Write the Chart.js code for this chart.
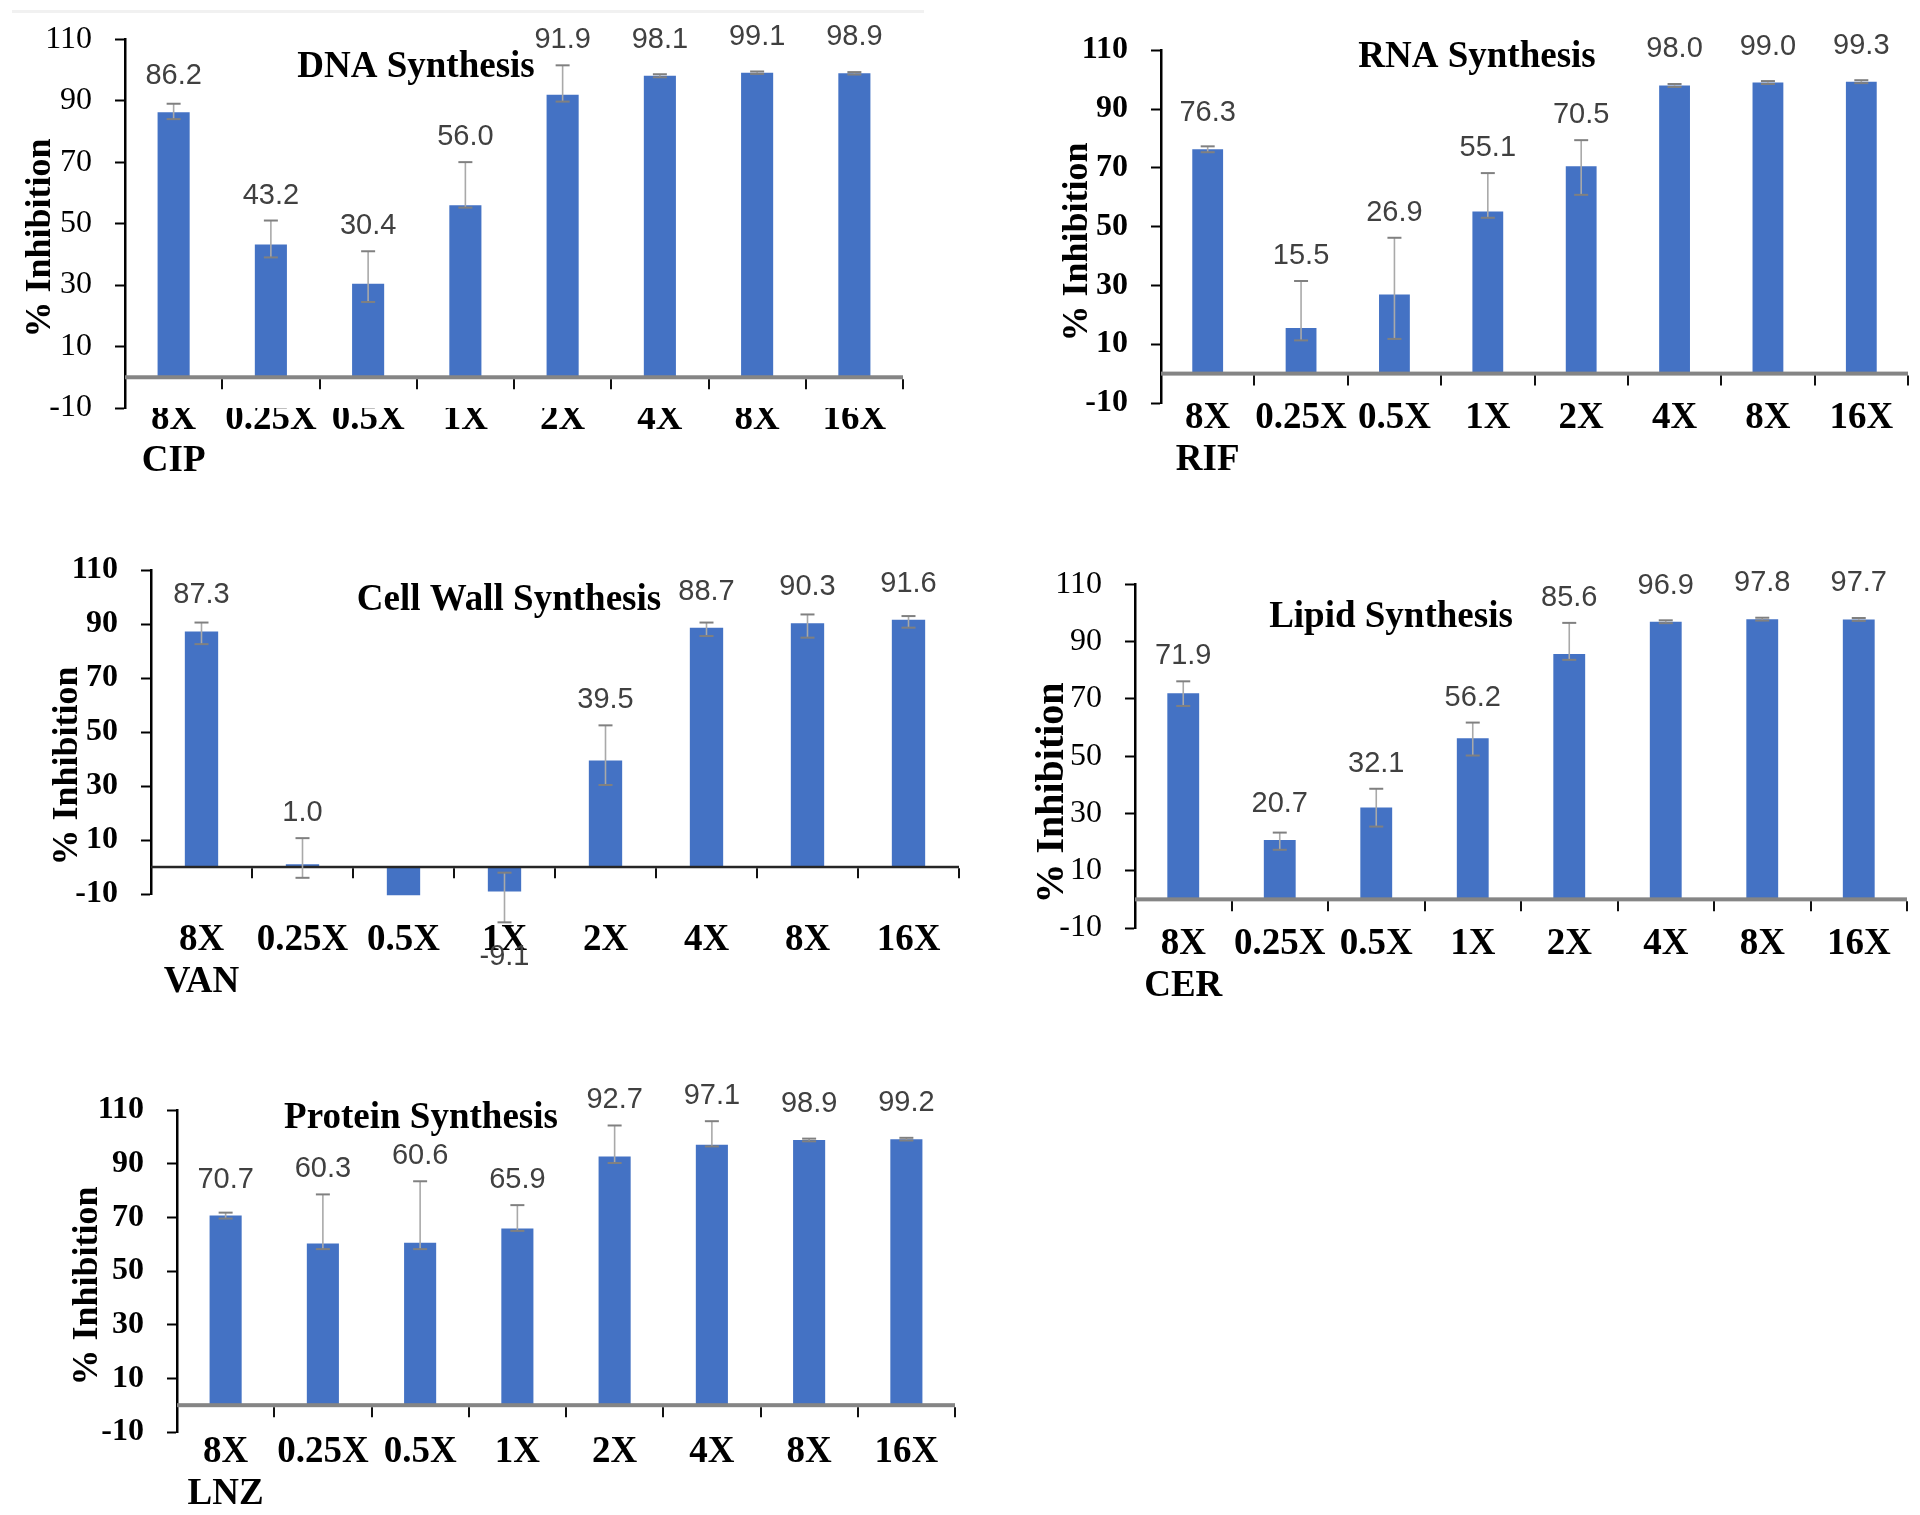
<!DOCTYPE html>
<html>
<head>
<meta charset="utf-8">
<script src="https://cdn.jsdelivr.net/npm/chart.js@4.4.0/dist/chart.umd.min.js"></script>
<style>
  html, body { margin: 0; padding: 0; background: #fff; }
  #page { position: relative; width: 1920px; height: 1515px; overflow: hidden; background: #fff; }
  #page canvas { position: absolute; }
  .edge { position: absolute; left: 12px; top: 10px; width: 912px; height: 3px; background: #f1f1f1; }
</style>
</head>
<body>
<div id="page"><div class="edge"></div></div>
<script>
// concentrations (multiples of MIC), shared by all panels
const doses = ["8X", "0.25X", "0.5X", "1X", "2X", "4X", "8X", "16X"];
const yTicks = { min: -10, max: 110, step: 20 };

// DNA synthesis - CIP
const dnaValues = [86.2, 43.2, 30.4, 56.0, 91.9, 98.1, 99.1, 98.9];
const dnaErrHigh = [89, 51, 41, 70, 101.5, 98.6, 99.5, 99.3];
const dnaErrLow = [84, 39, 24.5, 55.2, 89.7, 97.6, 98.7, 98.5];

// RNA synthesis - RIF
const rnaValues = [76.3, 15.5, 26.9, 55.1, 70.5, 98.0, 99.0, 99.3];
const rnaErrHigh = [77.3, 31.5, 46.2, 68.2, 79.4, 98.5, 99.5, 99.8];
const rnaErrLow = [75.3, 11.3, 11.8, 53, 60.8, 97.5, 98.5, 98.8];

// Cell wall synthesis - VAN (0.5X label not shown in the figure)
const cellValues = [87.3, 1.0, -10.5, -9.1, 39.5, 88.7, 90.3, 91.6];
const cellErrHigh = [90.6, 10.7, null, -2.1, 52.5, 90.6, 93.6, 93];
const cellErrLow = [82.6, -4, null, -20.5, 30.4, 85.6, 85, 88.7];
const cellHidden = [2];

// Lipid synthesis - CER
const lipidValues = [71.9, 20.7, 32.1, 56.2, 85.6, 96.9, 97.8, 97.7];
const lipidErrHigh = [76.1, 23.3, 38.6, 61.7, 96.5, 97.4, 98.3, 98.2];
const lipidErrLow = [67.5, 17.3, 25.4, 50.2, 83.6, 96.4, 97.3, 97.2];

// Protein synthesis - LNZ
const protValues = [70.7, 60.3, 60.6, 65.9, 92.7, 97.1, 98.9, 99.2];
const protErrHigh = [71.8, 78.6, 83.5, 74.6, 104.3, 105.9, 99.4, 99.7];
const protErrLow = [69.6, 58.2, 58.2, 65, 90.3, 96.5, 98.4, 98.7];

const SERIF = '"Liberation Serif", "Times New Roman", serif';

// zero axis, error bars, value labels, panel title and y title
const annot = {
  id: 'annot',
  afterDatasetsDraw(chart, args, o) {
    const { ctx, chartArea: a, scales: { x, y } } = chart;
    const vals = chart.data.datasets[0].data;
    const step = x.getPixelForValue(1) - x.getPixelForValue(0);
    const y0 = y.getPixelForValue(0);
    ctx.save();

    ctx.fillStyle = o.zeroColor;
    ctx.fillRect(a.left, y0 - o.zeroWidth / 2, a.right - a.left, o.zeroWidth);
    ctx.strokeStyle = '#111';
    ctx.lineWidth = 2;
    for (let i = 0; i < vals.length; i++) {
      const px = Math.round(x.getPixelForValue(i) + step / 2);
      ctx.beginPath();
      ctx.moveTo(px, y0 + o.zeroWidth / 2);
      ctx.lineTo(px, y0 + o.zeroWidth / 2 + 10);
      ctx.stroke();
    }

    vals.forEach((v, i) => {
      const px = x.getPixelForValue(i);
      const hi = o.hi[i], lo = o.lo[i];
      if (hi != null && lo != null) {
        const yh = y.getPixelForValue(hi), yl = y.getPixelForValue(lo);
        ctx.strokeStyle = '#a9a9a9';
        ctx.lineWidth = 1.6;
        ctx.beginPath(); ctx.moveTo(px, yh); ctx.lineTo(px, yl); ctx.stroke();
        ctx.strokeStyle = '#808080';
        ctx.lineWidth = 2;
        [yh, yl].forEach(yy => {
          ctx.beginPath(); ctx.moveTo(px - 7, yy); ctx.lineTo(px + 7, yy); ctx.stroke();
        });
      }
      if (o.hidden.includes(i)) return;
      ctx.font = '29px "Liberation Sans", Arial, sans-serif';
      ctx.fillStyle = '#404040';
      ctx.textAlign = 'center';
      ctx.textBaseline = 'middle';
      let ly;
      if (v >= 0) {
        const top = Math.max(v, hi == null ? v : hi);
        ly = Math.min(y.getPixelForValue(top) - 25, y.getPixelForValue(v) - 36);
      } else {
        const bot = Math.min(v, lo == null ? v : lo);
        ly = y.getPixelForValue(bot) + 35;
      }
      ctx.fillText(v.toFixed(1), px, ly);
    });

    ctx.fillStyle = '#000';
    ctx.textAlign = 'center';
    ctx.textBaseline = 'middle';
    ctx.font = 'bold 37px ' + SERIF;
    ctx.fillText(o.title, o.titleX - o.left, o.titleY - o.top);

    ctx.translate(o.yTitleX - o.left, o.yTitleY - o.top);
    ctx.rotate(-Math.PI / 2);
    ctx.font = 'bold ' + o.yTitleSize + 'px ' + SERIF;
    ctx.fillText('% Inhibition', 0, 0);
    ctx.restore();
  }
};

function makePanel(p) {
  const left = p.axisX - 130;
  const top = p.top - 40;
  const right = Math.min(1920, p.right + 12);
  const width = right - left;
  const height = (p.bottom - p.top) + 40 + 110;

  const cv = document.createElement('canvas');
  cv.width = width; cv.height = height;
  cv.style.left = left + 'px'; cv.style.top = top + 'px';
  cv.style.width = width + 'px'; cv.style.height = height + 'px';
  document.getElementById('page').appendChild(cv);

  new Chart(cv.getContext('2d'), {
    type: 'bar',
    data: {
      labels: doses.map((d, i) => i === 0 ? [d, p.drug] : d),
      datasets: [{
        data: p.values,
        backgroundColor: '#4472C4',
        barPercentage: 0.33,
        categoryPercentage: 1,
        clip: false
      }]
    },
    options: {
      responsive: false,
      animation: false,
      layout: { padding: { left: 0, top: 40, right: right - p.right, bottom: 0 } },
      plugins: {
        legend: { display: false },
        tooltip: { enabled: false },
        annot: {
          hi: p.hi, lo: p.lo, hidden: p.hidden || [],
          title: p.title, titleX: p.titleX, titleY: p.titleY,
          yTitleX: p.yTitleX, yTitleY: p.yTitleY, yTitleSize: p.yTitleSize || 36,
          left: left, top: top,
          zeroColor: p.zeroColor, zeroWidth: p.zeroWidth
        }
      },
      scales: {
        x: {
          grid: { display: false, drawTicks: false },
          border: { display: false },
          ticks: {
            color: '#000',
            font: { family: SERIF, size: 37, weight: 'bold', lineHeight: 1.13 },
            padding: p.xPad,
            maxRotation: 0,
            autoSkip: false
          },
          afterFit: s => { s.height = 110; }
        },
        y: {
          min: yTicks.min,
          max: yTicks.max,
          ticks: {
            stepSize: yTicks.step,
            color: '#000',
            font: { family: SERIF, size: 32, weight: p.tickBold ? 'bold' : 'normal' },
            padding: 23
          },
          grid: { drawOnChartArea: false, drawTicks: true, tickLength: 10, tickWidth: 2, color: '#000' },
          border: { display: true, color: '#000', width: 2.5 },
          title: { display: false },
          afterFit: s => { s.width = 130; }
        }
      }
    },
    plugins: [annot]
  });
}

makePanel({ drug: 'CIP', title: 'DNA Synthesis', values: dnaValues, hi: dnaErrHigh, lo: dnaErrLow,
  axisX: 125, right: 903, top: 37, bottom: 408, titleX: 416, titleY: 67,
  yTitleX: 41, yTitleY: 238,
  xPad: -9, tickBold: false, zeroColor: '#858585', zeroWidth: 4 });

makePanel({ drug: 'RIF', title: 'RNA Synthesis', values: rnaValues, hi: rnaErrHigh, lo: rnaErrLow,
  axisX: 1161, right: 1908, top: 48, bottom: 403, titleX: 1477, titleY: 57,
  yTitleX: 1078, yTitleY: 242,
  xPad: -5, tickBold: true, zeroColor: '#858585', zeroWidth: 4 });

makePanel({ drug: 'VAN', title: 'Cell Wall Synthesis', values: cellValues, hi: cellErrHigh, lo: cellErrLow,
  hidden: cellHidden,
  axisX: 151, right: 959, top: 568, bottom: 894, titleX: 509, titleY: 600,
  yTitleX: 68, yTitleY: 766,
  xPad: 26, tickBold: true, zeroColor: '#262626', zeroWidth: 2.5 });

makePanel({ drug: 'CER', title: 'Lipid Synthesis', values: lipidValues, hi: lipidErrHigh, lo: lipidErrLow,
  axisX: 1135, right: 1907, top: 582, bottom: 928, titleX: 1391, titleY: 617,
  yTitleX: 1053, yTitleY: 793, yTitleSize: 40,
  xPad: -4, tickBold: false, zeroColor: '#858585', zeroWidth: 4 });

makePanel({ drug: 'LNZ', title: 'Protein Synthesis', values: protValues, hi: protErrHigh, lo: protErrLow,
  axisX: 177, right: 955, top: 1108, bottom: 1432, titleX: 421, titleY: 1118,
  yTitleX: 88, yTitleY: 1286,
  xPad: 0, tickBold: true, zeroColor: '#858585', zeroWidth: 4 });
</script>
</body>
</html>
